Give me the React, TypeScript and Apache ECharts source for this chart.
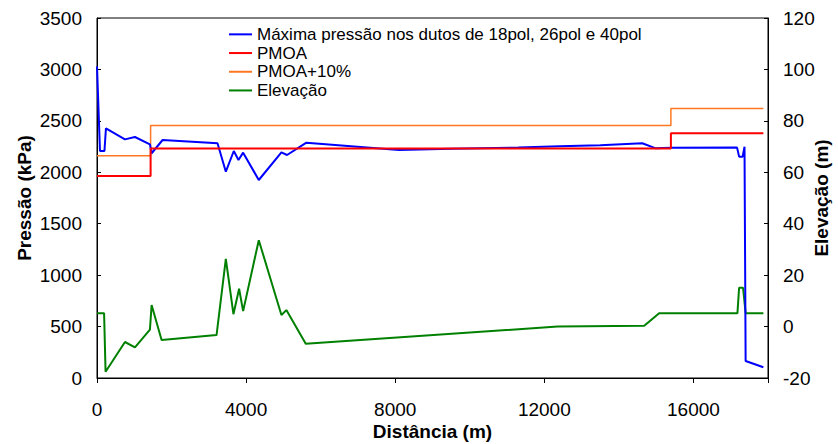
import React, { useEffect, useRef } from "react";
import * as echarts from "echarts";

// Máxima pressão (kPa) vs distância (m)
const distPressao = [0, 80, 200, 240, 750, 1018, 1420, 1465, 1760, 3233, 3456, 3670, 3795, 3920, 4340, 4947, 5098, 5617, 8100, 9500, 11300, 12400, 13500, 14627, 14990, 15400, 17170, 17225, 17320, 17370, 17400, 17876];
const pressao = [3030, 2207, 2207, 2428, 2320, 2343, 2272, 2185, 2314, 2282, 2006, 2207, 2119, 2191, 1925, 2194, 2168, 2288, 2217, 2228, 2240, 2252, 2262, 2282, 2233, 2239, 2240, 2152, 2152, 2249, 165, 104];

// PMOA (kPa)
const distPmoa = [0, 1438, 1438, 15395, 15395, 17876];
const pmoa = [1965, 1965, 2232, 2232, 2380, 2380];
const pmoa10 = [2160, 2160, 2455, 2455, 2620, 2620];

// Elevação (m)
const distElev = [0, 190, 230, 750, 1018, 1420, 1465, 1733, 3207, 3456, 3660, 3812, 3920, 4340, 4947, 5080, 5600, 12357, 14680, 15080, 16510, 17180, 17225, 17330, 17400, 17876];
const elevacao = [5.2, 5.2, -17.6, -6, -8.1, -1.2, 8.4, -5.2, -3.3, 26.3, 4.8, 14.7, 6, 33.6, 4.5, 6.4, -6.7, 0, 0.3, 5.2, 5.2, 5.2, 15.1, 15.1, 5.2, 5.2];

const names = [
  "Máxima pressão nos dutos de 18pol, 26pol e 40pol",
  "PMOA",
  "PMOA+10%",
  "Elevação",
];

const zip = (xs: number[], ys: number[]) => xs.map((x, i) => [x, ys[i]]);

const FONT = "Liberation Sans, Arial, sans-serif";

export default function App() {
  const ref = useRef<HTMLDivElement>(null);
  useEffect(() => {
    if (!ref.current) return;
    const chart = echarts.init(ref.current, undefined, { renderer: "svg" });
    chart.setOption({
      animation: false,
      backgroundColor: "#fff",
      textStyle: { fontFamily: FONT },
      grid: {
        left: 97,
        right: 70,
        top: 18,
        bottom: 66,
        show: true,
        borderColor: "#000",
        borderWidth: 1,
        containLabel: false,
        outerBoundsMode: "none",
      },
      legend: {
        data: names,
        orient: "vertical",
        left: 229,
        top: 25,
        padding: 0,
        icon: "rect",
        itemWidth: 23,
        itemHeight: 2,
        itemGap: 0,
        textStyle: { fontFamily: FONT, fontSize: 17, color: "#000", lineHeight: 18.7 },
      },
      xAxis: {
        type: "value",
        min: 0,
        max: 18000,
        interval: 4000,
        name: "Distância (m)",
        nameLocation: "middle",
        nameGap: 44,
        nameMoveOverlap: false,
        nameTextStyle: { fontFamily: FONT, fontSize: 19, fontWeight: "bold", color: "#000" },
        axisLine: { lineStyle: { color: "#000" } },
        axisTick: { inside: false, length: 5, lineStyle: { color: "#000" } },
        axisLabel: {
          fontFamily: FONT,
          fontSize: 19,
          color: "#000",
          margin: 22,
          formatter: (v: number) => (v === 18000 ? "" : String(v)),
        },
        splitLine: { show: false },
      },
      yAxis: [
        {
          type: "value",
          min: 0,
          max: 3500,
          interval: 500,
          name: "Pressão (kPa)",
          nameLocation: "middle",
          nameGap: 63,
          nameMoveOverlap: false,
          nameTextStyle: { fontFamily: FONT, fontSize: 19, fontWeight: "bold", color: "#000" },
          axisLine: { show: true, lineStyle: { color: "#000" } },
          axisTick: { show: true, inside: true, length: 4, lineStyle: { color: "#000" } },
          axisLabel: { fontFamily: FONT, fontSize: 19, color: "#000", margin: 15, formatter: (v: number) => String(v) },
          splitLine: { show: false },
        },
        {
          type: "value",
          min: -20,
          max: 120,
          interval: 20,
          position: "right",
          name: "Elevação (m)",
          nameLocation: "middle",
          nameGap: 44,
          nameMoveOverlap: false,
          nameTextStyle: { fontFamily: FONT, fontSize: 19, fontWeight: "bold", color: "#000" },
          axisLine: { show: true, lineStyle: { color: "#000" } },
          axisTick: { show: true, inside: true, length: 4, lineStyle: { color: "#000" } },
          axisLabel: { fontFamily: FONT, fontSize: 19, color: "#000", margin: 15, formatter: (v: number) => String(v) },
          splitLine: { show: false },
        },
      ],
      series: [
        {
          name: names[0],
          type: "line",
          data: zip(distPressao, pressao),
          showSymbol: false,
          lineStyle: { color: "#0000ff", width: 2 },
          itemStyle: { color: "#0000ff" },
          z: 4,
        },
        {
          name: names[1],
          type: "line",
          data: zip(distPmoa, pmoa),
          showSymbol: false,
          lineStyle: { color: "#ff0000", width: 2 },
          itemStyle: { color: "#ff0000" },
          z: 5,
        },
        {
          name: names[2],
          type: "line",
          data: zip(distPmoa, pmoa10),
          showSymbol: false,
          lineStyle: { color: "#ff7722", width: 1.5 },
          itemStyle: { color: "#ff7722" },
          z: 3,
        },
        {
          name: names[3],
          type: "line",
          yAxisIndex: 1,
          data: zip(distElev, elevacao),
          showSymbol: false,
          lineStyle: { color: "#008000", width: 2 },
          itemStyle: { color: "#008000" },
          z: 2,
        },
      ],
    });
    return () => chart.dispose();
  }, []);
  return (
    <div
      ref={ref}
      style={{ position: "fixed", left: 0, top: 0, width: 838, height: 444 }}
    />
  );
}
